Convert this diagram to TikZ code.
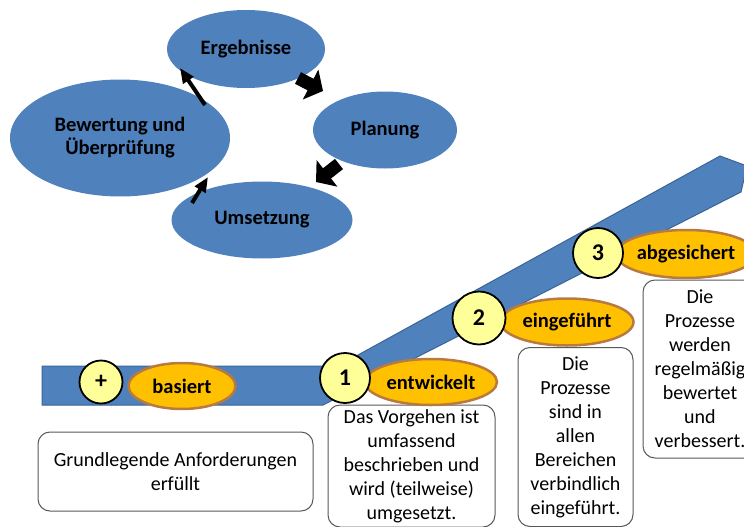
\documentclass[tikz,border=0pt]{standalone}
\usepackage{fontspec}
\setmainfont{Carlito}
\usetikzlibrary{shapes.geometric,arrows.meta}
\definecolor{cblue}{HTML}{4F81BD}
\definecolor{bandbrd}{HTML}{3A6496}
\definecolor{lvlyel}{HTML}{FFC000}
\definecolor{lvlbrd}{HTML}{B97A40}
\definecolor{numyel}{HTML}{FFFF99}
\definecolor{boxgray}{HTML}{595959}
\tikzset{
  cyc/.style={ellipse, fill=cblue, inner sep=0pt, align=center,
    font=\bfseries\fontsize{20.5}{23}\selectfont},
  lvl/.style={ellipse, fill=lvlyel, draw=lvlbrd, line width=2.5pt, inner sep=0pt,
    font=\bfseries\fontsize{20.5}{24}\selectfont},
  num/.style={circle, fill=numyel, draw=black, line width=1.8pt, inner sep=0pt,
    font=\bfseries\fontsize{24}{28}\selectfont},
  tbox/.style={rectangle, draw=boxgray, line width=1pt, rounded corners=12pt,
    fill=white, align=center, inner sep=0pt, font=\fontsize{20}{24}\selectfont},
  fatarrow/.style={line width=13pt, -{Triangle[length=14pt,width=33pt]}},
  thinarrow/.style={line width=4pt, -{Triangle[length=15pt,width=12pt]}},
  band/.style={fill=cblue, draw=bandbrd, line width=1pt, line join=miter}
}
\begin{document}
\begin{tikzpicture}[x=1pt,y=-1pt]
\useasboundingbox (0,0) rectangle (744,527);
\clip (0,0) rectangle (744,527);

% cycle
\node[cyc, minimum width=158pt, minimum height=78pt] (erg) at (246,49) {Ergebnisse};
\node[cyc, minimum width=220pt, minimum height=117pt] (bew) at (120,138) {Bewertung und\\Überprüfung};
\node[cyc, minimum width=144pt, minimum height=77pt] (pla) at (385,130) {Planung};
\node[cyc, minimum width=181pt, minimum height=77pt] (ums) at (262,220) {Umsetzung};

\coordinate (a1s) at (205,105);
\coordinate (a1e) at (180,68);
\coordinate (a2s) at (298,78);
\coordinate (a2e) at (323,91);
\coordinate (a3s) at (339,164);
\coordinate (a3e) at (316,182);
\coordinate (a4s) at (192,203);
\coordinate (a4e) at (208,177);
\draw[thinarrow] (a1s) -- (a1e);
\draw[fatarrow] (a2s) -- (a2e);
\draw[fatarrow] (a3s) -- (a3e);
\draw[thinarrow] (a4s) -- (a4e);

% band
\draw[band] (42,366) -- (338,366) -- (720,156) -- (747,166) -- (741,192) -- (323,405) -- (42,405) -- cycle;

% text boxes
\node[tbox, minimum width=275pt, minimum height=79pt] (b0) at (175.5,471.5)
  {Grundlegende Anforderungen\\erfüllt};
\node[tbox, minimum width=167pt, minimum height=122pt] (b1) at (411.5,466)
  {Das Vorgehen ist\\umfassend\\beschrieben und\\wird (teilweise)\\umgesetzt.};
\node[tbox, minimum width=115pt, minimum height=179pt] (b2) at (575.5,437)
  {Die\\Prozesse\\sind in\\allen\\Bereichen\\verbindlich\\eingeführt.};
\node[tbox, minimum width=114pt, minimum height=178pt] (b3) at (700,369)
  {Die\\Prozesse\\werden\\regelmäßig\\bewertet\\und\\verbessert.};

% level labels
\node[lvl, minimum width=107pt, minimum height=46pt] (l0) at (182,386) {basiert};
\node[lvl, minimum width=132pt, minimum height=46pt] (l1) at (431,382) {entwickelt};
\node[lvl, minimum width=133pt, minimum height=47pt] (l2) at (567,322) {eingeführt};
\node[lvl, minimum width=140pt, minimum height=48pt] (l3) at (686,254) {abgesichert};

% numbers
\node[num, minimum size=43pt] (n0) at (101,382) {+};
\node[num, minimum size=50pt] (n1) at (345,378) {1};
\node[num, minimum size=53pt] (n2) at (479,318) {2};
\node[num, minimum size=50pt] (n3) at (598,253) {3};
\end{tikzpicture}
\end{document}
